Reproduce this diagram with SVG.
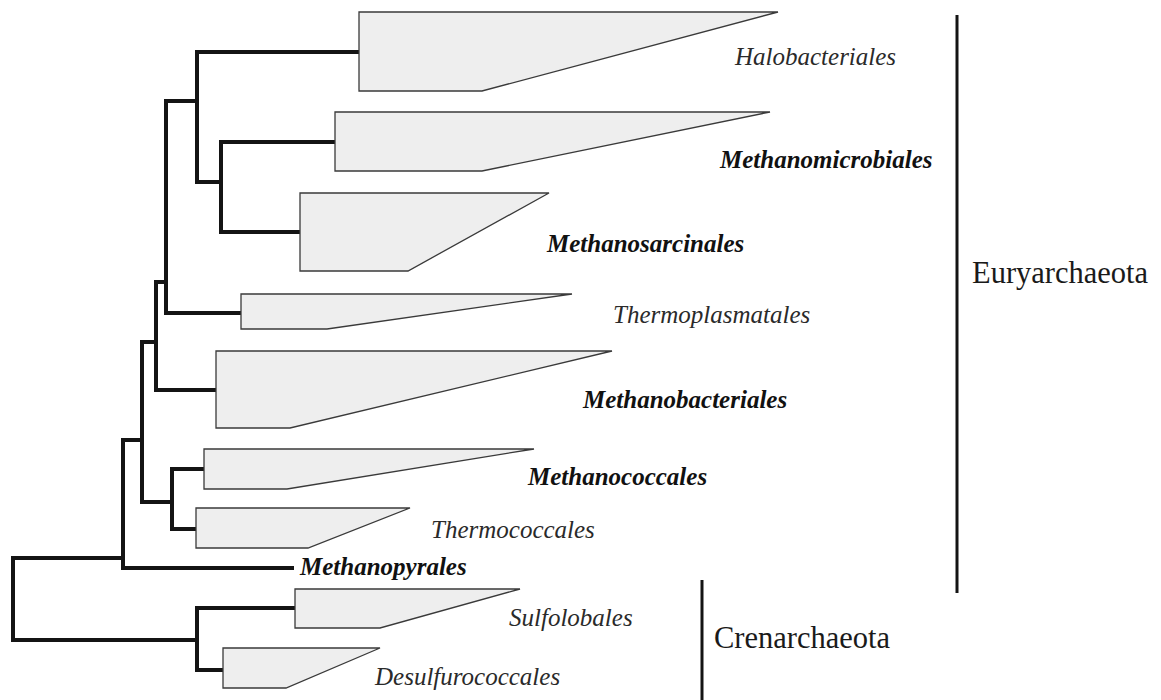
<svg xmlns="http://www.w3.org/2000/svg" width="1161" height="700" viewBox="0 0 1161 700">
<style>
.br{fill:none;stroke:#141414;stroke-width:4;stroke-linejoin:miter;stroke-linecap:square}
.wg{fill:#eeeeee;stroke:#3a3a3a;stroke-width:1.3}
.it{font-family:"Liberation Serif",serif;font-style:italic;font-size:25px;fill:#2a2a2a}
.bi{font-family:"Liberation Serif",serif;font-style:italic;font-weight:bold;font-size:25px;fill:#111}
.grp{font-family:"Liberation Serif",serif;font-size:30.5px;fill:#1a1a1a}
.bar{stroke:#141414;stroke-width:3}
</style>
<rect width="1161" height="700" fill="#ffffff"/>
<g id="connectors">
<path class="br" d="M359,52 H197 V182 H221"/>
<path class="br" d="M335,142 H221 V232 H300"/>
<path class="br" d="M197,101 H166 V313 H241"/>
<path class="br" d="M166,282 H156 V390 H216"/>
<path class="br" d="M156,342 H142 V502 H172"/>
<path class="br" d="M204,469 H172 V529 H196"/>
<path class="br" d="M142,440 H123 V568 H292"/>
<path class="br" d="M123,558 H13 V640 H197"/>
<path class="br" d="M295,608 H197 V670 H223"/>
</g>
<g id="halobacteriales">
<polygon class="wg" points="359,12 778,12 482,91 359,91"/>
<text class="it" x="735" y="65">Halobacteriales</text>
</g>
<g id="methanomicrobiales">
<polygon class="wg" points="335,112 770,112 482,171 335,171"/>
<text class="bi" x="720" y="168">Methanomicrobiales</text>
</g>
<g id="methanosarcinales">
<polygon class="wg" points="300,193 549,193 408,271 300,271"/>
<text class="bi" x="547" y="252">Methanosarcinales</text>
</g>
<g id="thermoplasmatales">
<polygon class="wg" points="241,294 572,294 327,329 241,329"/>
<text class="it" x="613" y="323">Thermoplasmatales</text>
</g>
<g id="methanobacteriales">
<polygon class="wg" points="216,351 612,351 290,428 216,428"/>
<text class="bi" x="583" y="408">Methanobacteriales</text>
</g>
<g id="methanococcales">
<polygon class="wg" points="204,449 534,449 287,489 204,489"/>
<text class="bi" x="528" y="485">Methanococcales</text>
</g>
<g id="thermococcales">
<polygon class="wg" points="196,508 410,508 308,548 196,548"/>
<text class="it" x="431" y="538">Thermococcales</text>
</g>
<g id="methanopyrales">
<text class="bi" x="300" y="575">Methanopyrales</text>
</g>
<g id="sulfolobales">
<polygon class="wg" points="295,589 520,589 380,628 295,628"/>
<text class="it" x="509" y="626">Sulfolobales</text>
</g>
<g id="desulfurococcales">
<polygon class="wg" points="223,648 380,648 286,688 223,688"/>
<text class="it" x="375" y="685">Desulfurococcales</text>
</g>
<g id="euryarchaeota">
<line class="bar" x1="957" y1="15" x2="957" y2="593"/>
<text class="grp" x="972" y="283">Euryarchaeota</text>
</g>
<g id="crenarchaeota">
<line class="bar" x1="702" y1="580" x2="702" y2="700"/>
<text class="grp" x="714" y="648">Crenarchaeota</text>
</g>
</svg>
